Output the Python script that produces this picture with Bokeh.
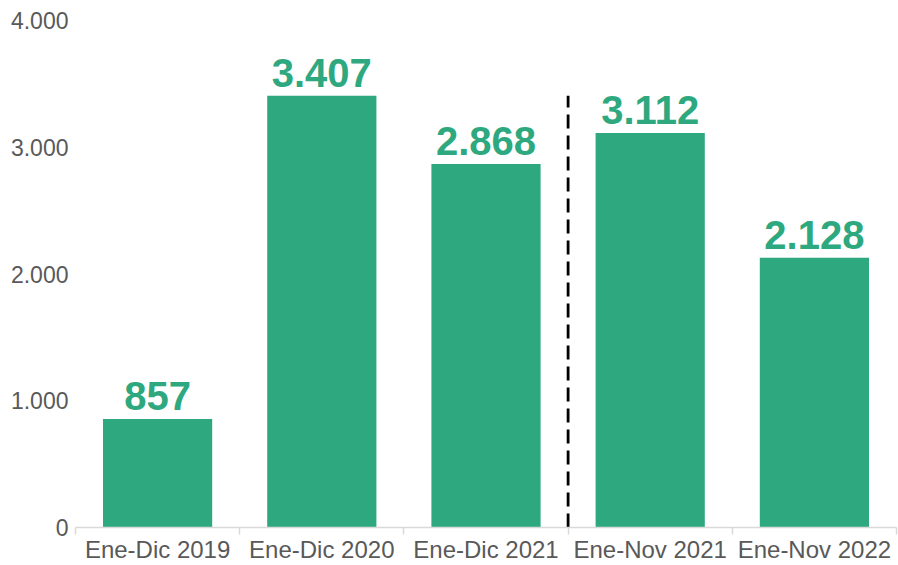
from bokeh.plotting import figure
from bokeh.models import ColumnDataSource, FixedTicker, Range1d, Segment
from bokeh.core.properties import value
from bokeh.embed import file_html
from bokeh.resources import INLINE

categories = ["Ene-Dic 2019", "Ene-Dic 2020", "Ene-Dic 2021", "Ene-Nov 2021", "Ene-Nov 2022"]
values = [857, 3407, 2868, 3112, 2128]
labels = ["857", "3.407", "2.868", "3.112", "2.128"]
y_ticks = [0, 1000, 2000, 3000, 4000]
separator_after = 3  # dashed line after the third category

GREEN = "#2ea87e"
GREY_TXT = "#595959"

xs = [i + 0.5 for i in range(len(categories))]
src = ColumnDataSource(dict(x=xs, top=values, label=labels))

p = figure(width=898, height=565, output_backend="svg", toolbar_location=None,
           x_range=Range1d(0, len(categories)), y_range=Range1d(0, 4000),
           min_border_left=75, min_border_right=2, min_border_top=20, min_border_bottom=38)
p.outline_line_color = None
p.grid.visible = False
p.background_fill_color = "white"

p.vbar(x="x", top="top", width=0.665, bottom=0, source=src, fill_color=GREEN, line_color=None)
p.text(x="x", y="top", text="label", source=src, text_align="center", text_baseline="alphabetic",
       y_offset=-23, text_font=value("Liberation Sans"), text_font_style="bold",
       text_font_size="40px", text_color=GREEN)

sep = ColumnDataSource(dict(x0=[separator_after], y0=[0], x1=[separator_after], y1=[max(values)]))
p.add_glyph(sep, Segment(x0="x0", y0="y0", x1="x1", y1="y1", line_color="black",
                         line_width=2.8, line_dash="14 7"))

# x axis
p.xaxis.ticker = FixedTicker(ticks=xs, minor_ticks=list(range(len(categories) + 1)))
p.xaxis.major_label_overrides = {x: c for x, c in zip(xs, categories)}
p.xaxis.major_tick_line_color = None
p.xaxis.major_tick_out = 0
p.xaxis.major_tick_in = 0
p.xaxis.minor_tick_line_color = "#d9d9d9"
p.xaxis.minor_tick_line_width = 1.5
p.xaxis.minor_tick_out = 7
p.xaxis.minor_tick_in = 0
p.xaxis.axis_line_color = "#d9d9d9"
p.xaxis.axis_line_width = 1.5
p.xaxis.major_label_text_font = "Liberation Sans"
p.xaxis.major_label_text_font_size = "24px"
p.xaxis.major_label_text_color = GREY_TXT
p.xaxis.major_label_standoff = 1

# y axis
p.yaxis.ticker = FixedTicker(ticks=y_ticks)
p.yaxis.major_label_overrides = {t: f"{t:,}".replace(",", ".") for t in y_ticks}
p.yaxis.axis_line_color = None
p.yaxis.major_tick_line_color = None
p.yaxis.major_tick_out = 0
p.yaxis.major_tick_in = 0
p.yaxis.minor_tick_line_color = None
p.yaxis.major_label_text_font = "Liberation Sans"
p.yaxis.major_label_text_font_size = "23px"
p.yaxis.major_label_text_color = GREY_TXT
p.yaxis.major_label_standoff = 7

open("out.html", "w").write(file_html(p, INLINE))
